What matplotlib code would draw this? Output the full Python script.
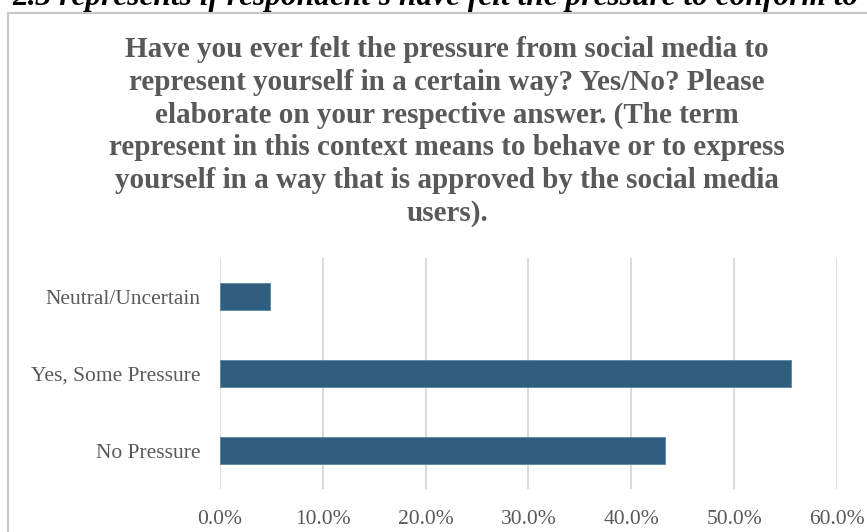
import matplotlib
matplotlib.use("Agg")
import matplotlib.pyplot as plt
from matplotlib.patches import Rectangle
from matplotlib.ticker import FuncFormatter

categories = ["No Pressure", "Yes, Some Pressure", "Neutral/Uncertain"]
values = [43.3, 55.5, 4.9]
xticks = [0, 10, 20, 30, 40, 50, 60]

title = ("Have you ever felt the pressure from social media to\n"
         "represent yourself in a certain way? Yes/No? Please\n"
         "elaborate on your respective answer. (The term\n"
         "represent in this context means to behave or to express\n"
         "yourself in a way that is approved by the social media\n"
         "users).")
caption = "2.3 represents if respondent's have felt the pressure to conform to"

W, H = 867, 532
fig = plt.figure(figsize=(W / 100, H / 100), dpi=100)
fig.patch.set_facecolor("white")

# outer chart box (extends past right and bottom edge)
box = Rectangle((8 / W, -0.1), 1.2, 1 - 13 / H + 0.1, transform=fig.transFigure,
                fill=False, edgecolor="#c8c8c8", lw=1.6, zorder=0)
fig.patches.append(box)

# cut-off caption at the top
fig.text(859 / W, 1 - 5 / H, caption, fontsize=22.6, fontweight="bold", fontstyle="italic",
         family="Liberation Serif", color="black", ha="right", va="baseline")

ax = fig.add_axes([220 / W, 1 - 489 / H, (837 - 220) / W, (489 - 258) / H])
y = list(range(len(categories)))
ax.barh(y, values, height=0.35, color="#2f5e7e", edgecolor="#5b86a3", linewidth=0.6, zorder=3)
ax.set_ylim(-0.5, len(categories) - 0.5)
ax.set_xlim(0, 60)
ax.set_xticks(xticks)
ax.xaxis.set_major_formatter(FuncFormatter(lambda v, p: f"{v:.1f}%"))
ax.set_yticks(y)
ax.set_yticklabels(categories)
ax.grid(axis="x", color="#d9d9d9", lw=1.4, zorder=0)
for s in ax.spines.values():
    s.set_visible(False)
ax.tick_params(length=0)
ax.tick_params(axis="y", pad=14)
ax.tick_params(axis="x", pad=15)
for lab in ax.get_xticklabels() + ax.get_yticklabels():
    lab.set_family("Liberation Serif")
    lab.set_fontsize(15.5)
    lab.set_color("#595959")

fig.text(447 / W, 1 - 36 / H, title, ha="center", va="top", fontsize=21,
         fontweight="bold", family="Liberation Serif", color="#595959", linespacing=1.27)

fig.savefig("out.png", dpi=100, facecolor="white")
